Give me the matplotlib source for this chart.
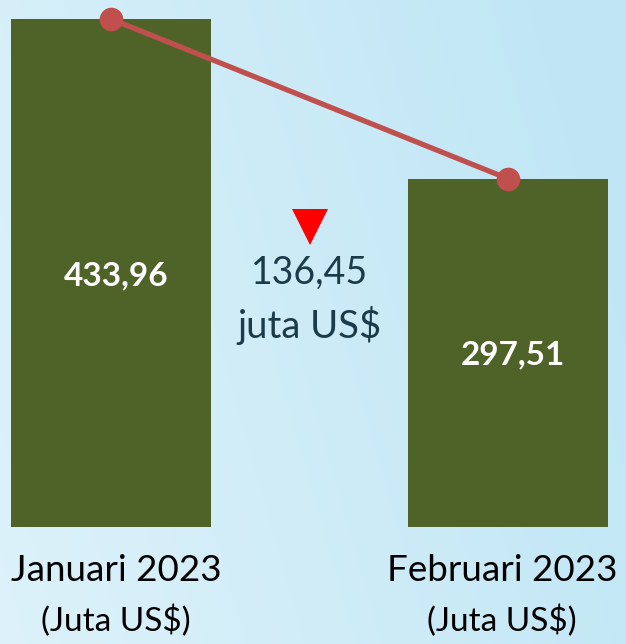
import matplotlib
matplotlib.use("Agg")
import matplotlib.pyplot as plt
import numpy as np

categories = ["Januari 2023", "Februari 2023"]
unit_labels = ["(Juta US$)", "(Juta US$)"]
values = [433.96, 297.51]
value_labels = ["433,96", "297,51"]
diff_label = "136,45"
diff_unit = "juta US$"

bar_color = "#4F6228"
line_color = "#C0504D"
FONT = ["Lato", "DejaVu Sans"]

fig = plt.figure(figsize=(6.26, 6.44), dpi=100)

# background gradient
bg = fig.add_axes([0, 0, 1, 1], zorder=0)
nx, ny = 300, 300
xx, yy = np.meshgrid(np.linspace(0, 1, nx), np.linspace(0, 1, ny))
t = np.clip(0.85 * xx + 0.25 * yy, 0, 1)
c0 = np.array([0xDD, 0xF2, 0xFA]) / 255.0
c1 = np.array([0xC0, 0xE6, 0xF5]) / 255.0
img = c0[None, None, :] * (1 - t[..., None]) + c1[None, None, :] * t[..., None]
bg.imshow(img, origin="lower", extent=[0, 1, 0, 1], aspect="auto")
bg.set_axis_off()

ax = fig.add_axes([0, 0, 1, 1], zorder=1)
ax.patch.set_alpha(0)
x = np.arange(len(categories))
ax.bar(x, values, width=0.504, color=bar_color, zorder=2)
ax.plot(x, values, color=line_color, lw=3.8, marker="o", markersize=16,
        zorder=3, solid_capstyle="round")

for xi, v, lab in zip(x, values, value_labels):
    ax.text(xi + 0.012, v * 0.495, lab, ha="center", va="center",
            color="white", fontsize=24, fontweight="bold", family=FONT, zorder=4)

label_dx = [0.012, -0.015]
for xi, dx, cat, unit in zip(x, label_dx, categories, unit_labels):
    ax.text(xi + dx, -37, cat, ha="center", va="center", color="black",
            fontsize=26.5, family=FONT, zorder=4)
    ax.text(xi + dx, -80, unit, ha="center", va="center", color="black",
            fontsize=24, family=FONT, zorder=4)

mid = (x[0] + x[1]) / 2
ax.plot([mid], [256], marker="v", markersize=26, color="#FF0000",
        markeredgewidth=0, zorder=4)
ax.text(mid, 217, diff_label, ha="center", va="center", color="#1C3B4A",
        fontsize=27, family=FONT, zorder=4)
ax.text(mid, 172, diff_unit, ha="center", va="center", color="#1C3B4A",
        fontsize=27.5, family=FONT, zorder=4)

ax.set_xlim(-0.2796, 1.2972)
ax.set_ylim(-100, 450.2)
ax.set_axis_off()

fig.savefig("out.png", dpi=100)
